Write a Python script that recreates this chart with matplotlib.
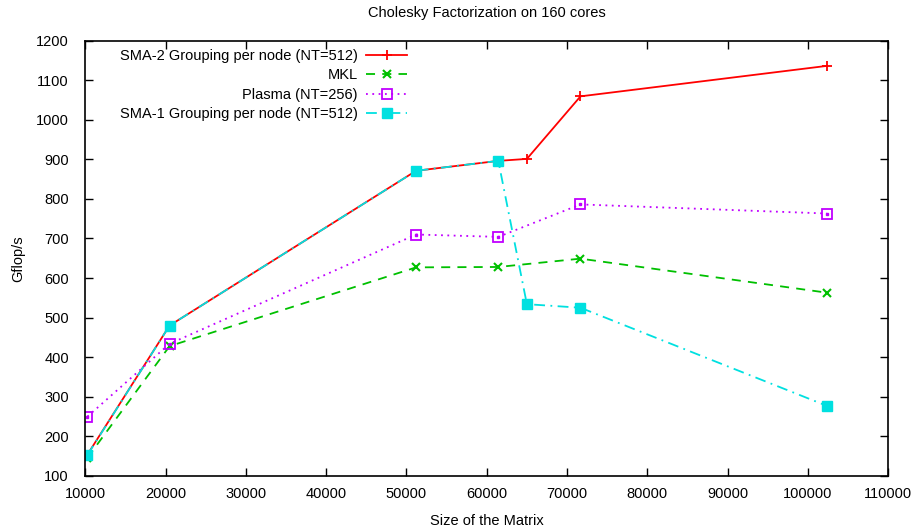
import matplotlib.pyplot as plt

plt.rcParams['font.family'] = ['Liberation Sans', 'DejaVu Sans']

# matrix sizes
x_sma2 = [10240, 20480, 51200, 61440, 65000, 71680, 102400]
y_sma2 = [154, 480, 871, 896, 901, 1059, 1136]

x_mkl = [10240, 20480, 51200, 61440, 71680, 102400]
y_mkl = [146, 428, 627, 628, 649, 563]

x_plasma = [10240, 20480, 51200, 61440, 71680, 102400]
y_plasma = [250, 434, 710, 704, 786, 763]

x_sma1 = [10240, 20480, 51200, 61440, 65000, 71680, 102400]
y_sma1 = [153, 480, 871, 896, 534, 525, 277]

fs = 10.5

fig = plt.figure(figsize=(9.19, 5.27), dpi=100)
ax = fig.add_axes([0.093, 0.0968, 0.8733, 0.8263])

ax.plot(x_sma2, y_sma2, color='#ff0000', lw=1.3, marker='+', ms=6.5, mew=1.3,
        label='SMA-2 Grouping per node (NT=512)')
ax.plot(x_mkl, y_mkl, color='#00c000', lw=1.3, ls=(0, (5, 4)), marker='x', ms=6, mew=1.5,
        label='MKL')
ax.plot(x_plasma, y_plasma, color='#c000ff', lw=1.3, ls=(0, (1, 2.5)), marker='s', ms=6.5,
        mfc='none', mew=1.3, label='Plasma (NT=256)')
ax.plot(x_plasma, y_plasma, color='#c000ff', lw=0, marker='s', ms=1.5)
ax.plot(x_sma1, y_sma1, color='#00e0e0', lw=1.3, ls=(0, (6, 3, 1, 3)), marker='s', ms=7.5,
        label='SMA-1 Grouping per node (NT=512)')

ax.set_xlim(10000, 110000)
ax.set_ylim(100, 1200)
ax.set_xticks(range(10000, 110001, 10000))
ax.set_yticks(range(100, 1201, 100))
ax.tick_params(direction='in', top=True, right=True, length=6, width=1, labelsize=fs)
ax.tick_params(axis='y', pad=12)
ax.tick_params(axis='x', pad=8)
for s in ax.spines.values():
    s.set_linewidth(1.2)

ax.set_title('Cholesky Factorization on 160 cores', fontsize=fs, pad=17)
ax.set_xlabel('Size of the Matrix', fontsize=fs, labelpad=9)
ax.set_ylabel('Gflop/s', fontsize=fs, labelpad=8)

ax.legend(loc='upper right', bbox_to_anchor=(0.41, 0.998), frameon=False, markerfirst=False,
          fontsize=fs, handlelength=2.8, labelspacing=0.38, borderpad=0, handletextpad=0.6)

fig.savefig('out.png', dpi=100)
